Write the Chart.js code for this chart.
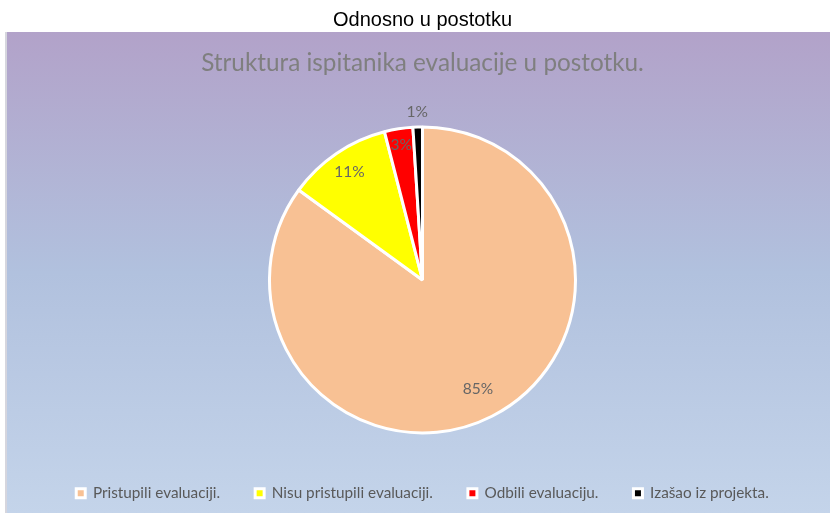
<!DOCTYPE html>
<html>
<head>
<meta charset="utf-8">
<script src="https://cdn.jsdelivr.net/npm/chart.js@4.4.1/dist/chart.umd.min.js"></script>
<style>
  html, body { margin: 0; padding: 0; background: #fff; }
  #wrap { width: 830px; height: 513px; }
</style>
</head>
<body>
<div id="wrap"><canvas id="pita"></canvas></div>
<script>
// podaci
var kategorije = ["Pristupili evaluaciji.", "Nisu pristupili evaluaciji.", "Odbili evaluaciju.", "Izašao iz projekta."];
var postoci = [85, 11, 3, 1];
var boje = ["#F8C194", "#FFFF00", "#FF0000", "#000000"];

// pozadina s gradijentom iza grafa
var pozadina = {
    id: "pozadina",
    beforeDraw: function (chart) {
        var c = chart.ctx;
        var g = c.createLinearGradient(0, 32, 0, 513);
        g.addColorStop(0, "#B2A2C9");
        g.addColorStop(0.5, "#B1C1DE");
        g.addColorStop(1, "#C4D4EA");
        c.save();
        c.fillStyle = g;
        c.fillRect(7, 32, 823, 481);
        c.fillStyle = "#D6D6DE";
        c.fillRect(5, 32, 2, 481);
        c.restore();
    }
};

// oznake postotaka na kriškama
var oznake = {
    id: "oznake",
    afterDatasetsDraw: function (chart) {
        var c = chart.ctx;
        var meta = chart.getDatasetMeta(0);
        var udaljenost = [0.8, 0.85, 0.89, 1.1];
        c.save();
        c.font = "15.5px Lato";
        c.fillStyle = "#666666";
        c.textAlign = "center";
        c.textBaseline = "middle";
        meta.data.forEach(function (luk, i) {
            var p = luk.getProps(["x", "y", "startAngle", "endAngle", "outerRadius"], true);
            var kut = (p.startAngle + p.endAngle) / 2;
            var r = p.outerRadius * udaljenost[i];
            c.fillText(postoci[i] + "%", p.x + Math.cos(kut) * r, p.y + Math.sin(kut) * r);
        });
        c.restore();
    }
};

var ctx = document.getElementById("pita").getContext("2d");
var graf = new Chart(ctx, {
    type: "pie",
    data: {
        labels: kategorije,
        datasets: [{
            data: postoci,
            backgroundColor: boje,
            borderColor: "#FFFFFF",
            borderWidth: 3,
            radius: 153
        }]
    },
    options: {
        responsive: true,
        maintainAspectRatio: false,
        animation: false,
        layout: { padding: { top: 0, bottom: 2, left: 15 } },
        plugins: {
            title: {
                display: true,
                text: "Odnosno u postotku",
                color: "#000000",
                font: { family: "Liberation Sans", size: 20, weight: "normal" },
                padding: { top: 8, bottom: 12 }
            },
            subtitle: {
                display: true,
                text: "Struktura ispitanika evaluacije u postotku.",
                color: "#7F7F7F",
                font: { family: "Lato", size: 24.3, weight: "normal" },
                padding: { top: 5, bottom: 31 }
            },
            legend: {
                position: "bottom",
                labels: {
                    usePointStyle: true,
                    pointStyle: "rect",
                    boxWidth: 9,
                    boxHeight: 9,
                    padding: 35,
                    color: "#595959",
                    font: { family: "Lato", size: 15.3 }
                }
            },
            tooltip: { enabled: false }
        }
    },
    plugins: [pozadina, oznake]
});
</script>
</body>
</html>
